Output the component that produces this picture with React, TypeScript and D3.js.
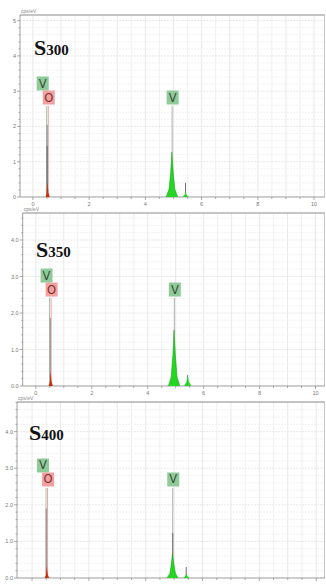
import React from "react";
import * as d3 from "d3";

type Pt = [number, number];

// Axis ticks (keV on x, cps/eV on y)
const X_TICKS = [0, 2, 4, 6, 8, 10];
const Y_TICKS_300 = [0, 1, 2, 3, 4, 5];
const Y_LABELS_300 = ["0", "1", "2", "3", "4", "5"];
const Y_TICKS_350 = [0, 1, 2, 3, 4];
const Y_LABELS_350 = ["0.0", "1.0", "2.0", "3.0", "4.0"];
const Y_TICKS_400 = [0, 1, 2, 3, 4];
const Y_LABELS_400 = ["0.0", "1.0", "2.0", "3.0", "4.0"];

// Sample names
const SAMPLES = ["300", "350", "400"];

// Line energies (keV)
const E_V_L = 0.511;
const E_O_K = 0.525;
const E_V_KA = 4.952;
const E_V_KB = 5.427;

// Measured spectrum spikes: [energy, cps/eV]
const S300_SPIKE_LIGHT: Pt[] = [[0.505, 2.05]];
const S300_SPIKE_DARK: Pt[] = [[0.505, 1.45], [E_V_KB, 0.4]];
const S350_SPIKE_LIGHT: Pt[] = [[0.515, 1.86]];
const S350_SPIKE_DARK: Pt[] = [[E_V_KB, 0.3]];
const S400_SPIKE_LIGHT: Pt[] = [[0.505, 1.9]];
const S400_SPIKE_DARK: Pt[] = [[E_V_KA, 1.23], [E_V_KB, 0.3]];

// O K peak fits
const S300_O: Pt[] = [[0.45, 0], [0.49, 0.1], [0.52, 0.42], [0.55, 0.12], [0.6, 0]];
const S350_O: Pt[] = [[0.46, 0], [0.5, 0.1], [0.53, 0.42], [0.56, 0.12], [0.61, 0]];
const S400_O: Pt[] = [[0.45, 0], [0.49, 0.08], [0.52, 0.33], [0.55, 0.1], [0.6, 0]];

// V Ka peak fits
const S300_VKA: Pt[] = [[4.74, 0], [4.84, 0.22], [4.9, 0.7], [4.94, 1.27], [4.99, 0.7], [5.05, 0.22], [5.15, 0]];
const S350_VKA: Pt[] = [[4.74, 0], [4.84, 0.25], [4.9, 0.85], [4.94, 1.53], [4.99, 0.85], [5.05, 0.25], [5.15, 0]];
const S400_VKA: Pt[] = [[4.75, 0], [4.85, 0.12], [4.9, 0.38], [4.94, 0.65], [4.99, 0.38], [5.05, 0.12], [5.14, 0]];

// V Kb peak fits
const S300_VKB: Pt[] = [[5.32, 0], [5.39, 0.06], [5.43, 0.15], [5.47, 0.06], [5.54, 0]];
const S350_VKB: Pt[] = [[5.3, 0], [5.38, 0.1], [5.43, 0.3], [5.48, 0.1], [5.56, 0]];
const S400_VKB: Pt[] = [[5.32, 0], [5.39, 0.05], [5.43, 0.12], [5.47, 0.05], [5.54, 0]];

// Height where element marker lines start
const MARKER_TOP = [2.58, 2.41, 2.46];

interface Panel {
  name: string;
  left: number;
  right: number;
  top: number;
  bottom: number;
  xDomain: [number, number];
  yMax: number;
  yTicks: number[];
  yLabels: string[];
  spikeLight: Pt[];
  spikeDark: Pt[];
  oFill: Pt[];
  vka: Pt[];
  vkb: Pt[];
  markerTop: number;
  vlShift: number;
  nameX: number;
  nameY: number;
  showXLabels: boolean;
}

const panels: Panel[] = [
  {
    name: SAMPLES[0], left: 20, right: 325, top: 15, bottom: 197,
    xDomain: [-0.46, 10.39], yMax: 5.16, yTicks: Y_TICKS_300, yLabels: Y_LABELS_300,
    spikeLight: S300_SPIKE_LIGHT, spikeDark: S300_SPIKE_DARK,
    oFill: S300_O, vka: S300_VKA, vkb: S300_VKB, markerTop: MARKER_TOP[0], vlShift: -4,
    nameX: 34, nameY: 55, showXLabels: true,
  },
  {
    name: SAMPLES[1], left: 22.7, right: 325, top: 213, bottom: 386,
    xDomain: [-0.47, 10.34], yMax: 4.74, yTicks: Y_TICKS_350, yLabels: Y_LABELS_350,
    spikeLight: S350_SPIKE_LIGHT, spikeDark: S350_SPIKE_DARK,
    oFill: S350_O, vka: S350_VKA, vkb: S350_VKB, markerTop: MARKER_TOP[1], vlShift: -3,
    nameX: 36, nameY: 257, showXLabels: true,
  },
  {
    name: SAMPLES[2], left: 17, right: 325, top: 402, bottom: 578,
    xDomain: [-0.53, 10.31], yMax: 4.81, yTicks: Y_TICKS_400, yLabels: Y_LABELS_400,
    spikeLight: S400_SPIKE_LIGHT, spikeDark: S400_SPIKE_DARK,
    oFill: S400_O, vka: S400_VKA, vkb: S400_VKB, markerTop: MARKER_TOP[2], vlShift: -3,
    nameX: 29, nameY: 440, showXLabels: false,
  },
];

const GREEN = "#22d622";
const GREEN_EDGE = "#129a12";
const RED = "#d42a00";
const BOX_GREEN = "#8fcb98";
const BOX_PINK = "#f3a0a0";
const TICK_FONT = "Liberation Sans, Arial, sans-serif";

function ElementBox({ cx, bottom, label, fill, color }: { cx: number; bottom: number; label: string; fill: string; color: string }) {
  const w = 12, h = 14;
  return (
    <g>
      <rect x={cx - w / 2} y={bottom - h} width={w} height={h} fill={fill} />
      <text x={cx} y={bottom - 3} textAnchor="middle" fontSize={11.5} fontFamily="DejaVu Sans, sans-serif" fill={color}>
        {label}
      </text>
    </g>
  );
}

function SpectrumPanel({ p, idx }: { p: Panel; idx: number }) {
  const x = d3.scaleLinear().domain(p.xDomain).range([p.left, p.right]);
  const y = d3.scaleLinear().domain([0, p.yMax]).range([p.bottom, p.top]);
  const area = d3.area<Pt>().x((d) => x(d[0])).y0(y(0)).y1((d) => y(d[1]));
  const line = d3.line<Pt>().x((d) => x(d[0])).y((d) => y(d[1]));

  const xMinor = d3.range(0, 10.5 + 1e-9, 0.5);
  const yMinor = d3.range(0, p.yMax + 1e-9, 0.2);
  const clipId = `clip-${idx}`;

  const mTop = y(p.markerTop);
  const xVL = x(E_V_L) - 0.6;
  const xO = x(E_O_K) + 0.6;
  const xKa = x(E_V_KA);

  return (
    <g>
      <defs>
        <clipPath id={clipId}>
          <rect x={p.left} y={p.top} width={p.right - p.left} height={p.bottom - p.top} />
        </clipPath>
      </defs>
      <rect x={p.left} y={p.top} width={p.right - p.left} height={p.bottom - p.top} fill="#fff" />
      {/* grid */}
      <g clipPath={`url(#${clipId})`}>
        {xMinor.map((v) => (
          <line key={`gx${v}`} x1={x(v)} x2={x(v)} y1={p.top} y2={p.bottom}
            stroke={Number.isInteger(v) ? "#e2e2e2" : "#ececec"} strokeWidth={0.8} />
        ))}
        {yMinor.map((v, i) => (
          <line key={`gy${i}`} x1={p.left} x2={p.right} y1={y(v)} y2={y(v)}
            stroke={i % 5 === 0 ? "#e2e2e2" : "#efefef"} strokeWidth={0.8} strokeDasharray="2,1" />
        ))}
      </g>
      {/* frame */}
      <line x1={p.left} x2={p.right} y1={p.top} y2={p.top} stroke="#8a8a8a" strokeWidth={1} />
      <line x1={p.right - 0.5} x2={p.right - 0.5} y1={p.top} y2={p.bottom} stroke="#bbb" strokeWidth={0.8} />
      <line x1={p.left} x2={p.left} y1={p.top} y2={p.bottom} stroke="#888" strokeWidth={0.8} />
      <line x1={p.left} x2={p.right} y1={p.bottom} y2={p.bottom} stroke="#888" strokeWidth={0.8} />
      {/* y ticks */}
      {yMinor.map((v, i) => (
        <line key={`ty${i}`} x1={p.left - (i % 5 === 0 ? 3 : 1.5)} x2={p.left} y1={y(v)} y2={y(v)} stroke="#888" strokeWidth={0.7} />
      ))}
      {p.yTicks.map((v, i) => (
        <text key={`ly${v}`} x={p.left - 4} y={y(v) + 2} textAnchor="end" fontSize={5.5} fontFamily={TICK_FONT} fill="#777">
          {p.yLabels[i]}
        </text>
      ))}
      {/* x ticks */}
      {xMinor.map((v) => (
        <line key={`tx${v}`} x1={x(v)} x2={x(v)} y1={p.bottom} y2={p.bottom + (Number.isInteger(v / 2) ? 3 : 2)} stroke="#888" strokeWidth={0.7} />
      ))}
      {p.showXLabels && X_TICKS.map((v) => (
        <text key={`lx${v}`} x={x(v)} y={p.bottom + 9} textAnchor="middle" fontSize={5.5} fontFamily={TICK_FONT} fill="#777">
          {v}
        </text>
      ))}
      <text x={p.left + 1} y={p.top - 2.5} fontSize={5} fontFamily={TICK_FONT} fill="#888">cps/eV</text>

      {/* sample name */}
      <text x={p.nameX} y={p.nameY} fontFamily="Liberation Serif, Times New Roman, serif" fontWeight="bold" fill="#111">
        <tspan fontSize={22}>S</tspan>
        <tspan fontSize={15}>{p.name}</tspan>
      </text>

      <g clipPath={`url(#${clipId})`}>
        {/* element marker lines */}
        <line x1={xVL} x2={xVL} y1={mTop} y2={p.bottom} stroke="#a9c7ab" strokeWidth={1} />
        <line x1={xO} x2={xO} y1={mTop} y2={p.bottom} stroke="#f0a3a3" strokeWidth={1} />
        <line x1={xKa} x2={xKa} y1={mTop} y2={p.bottom} stroke="#9a9a9a" strokeWidth={0.8} />

        {/* measured spikes */}
        {p.spikeLight.map((d, i) => (
          <line key={`sl${i}`} x1={x(d[0])} x2={x(d[0])} y1={y(0)} y2={y(d[1])} stroke="#9c9c9c" strokeWidth={1.4} />
        ))}
        {p.spikeDark.map((d, i) => (
          <line key={`sd${i}`} x1={x(d[0])} x2={x(d[0])} y1={y(0)} y2={y(d[1])} stroke="#5c5c5c" strokeWidth={0.9} />
        ))}

        {/* fitted peaks */}
        <path d={area(p.vka) ?? ""} fill={GREEN} />
        <path d={line(p.vka) ?? ""} fill="none" stroke={GREEN_EDGE} strokeWidth={0.5} />
        <path d={area(p.vkb) ?? ""} fill={GREEN} />
        <path d={area(p.oFill) ?? ""} fill={RED} />
      </g>

      {/* element labels */}
      <ElementBox cx={xVL + p.vlShift} bottom={mTop - 15.5} label="V" fill={BOX_GREEN} color="#3c4a3c" />
      <ElementBox cx={xO + 0.5} bottom={mTop - 1.5} label="O" fill={BOX_PINK} color="#7a3030" />
      <ElementBox cx={xKa + 0.5} bottom={mTop - 1.5} label="V" fill={BOX_GREEN} color="#3c4a3c" />
    </g>
  );
}

export default function App() {
  return (
    <svg width={326} height={584} style={{ position: "absolute", left: 0, top: 0, background: "#fff" }}>
      <rect width={326} height={584} fill="#fff" />
      {panels.map((p, i) => (
        <SpectrumPanel key={p.name} p={p} idx={i} />
      ))}
    </svg>
  );
}
